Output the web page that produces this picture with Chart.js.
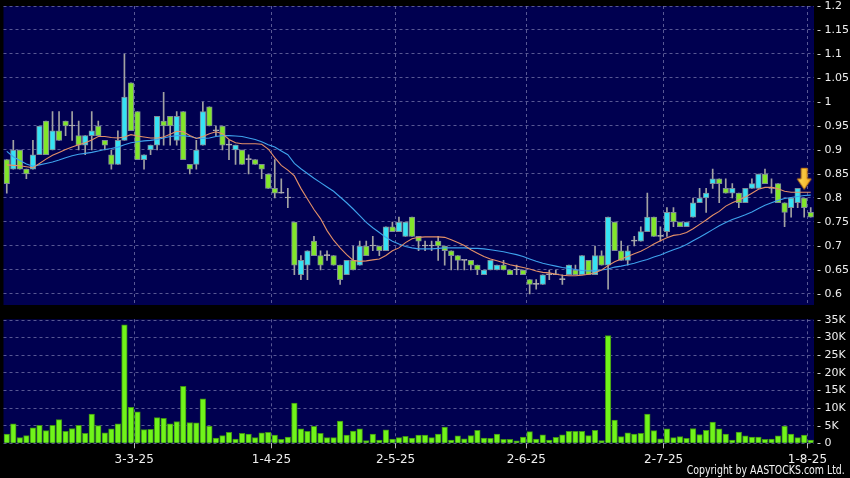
<!DOCTYPE html>
<html>
<head>
<meta charset="utf-8">
<title>Daily chart</title>
<script src="https://cdn.jsdelivr.net/npm/chart.js@4.4.1/dist/chart.umd.min.js"></script>
<style>
  html, body { margin: 0; padding: 0; background: #000; }
  #wrap { position: relative; width: 850px; height: 478px; overflow: hidden; background: #000; }
  canvas { position: absolute; left: 0; }
  #price-chart { top: 0; }
  #volume-chart { top: 310px; }
  #copyright {
    position: absolute; right: 5px; top: 463px;
    color: #f4f4f4; font: 12px "DejaVu Sans"; font-stretch: condensed; white-space: nowrap;
    transform: scaleX(0.87); transform-origin: right center;
  }
</style>
</head>
<body>
<div id="wrap">
  <canvas id="price-chart" width="850" height="310"></canvas>
  <canvas id="volume-chart" width="850" height="168"></canvas>
  <div id="copyright">Copyright by AASTOCKS.com Ltd.</div>
</div>
<script>
    // ===== DATA ===== //
    // trading days, 3 Feb 2025 - 1 Aug 2025
    const dates = [
      '3-2-25','4-2-25','5-2-25','6-2-25','7-2-25','10-2-25','11-2-25','12-2-25','13-2-25','14-2-25',
      '17-2-25','18-2-25','19-2-25','20-2-25','21-2-25','24-2-25','25-2-25','26-2-25','27-2-25','28-2-25',
      '3-3-25','4-3-25','5-3-25','6-3-25','7-3-25','10-3-25','11-3-25','12-3-25','13-3-25','14-3-25',
      '17-3-25','18-3-25','19-3-25','20-3-25','21-3-25','24-3-25','25-3-25','26-3-25','27-3-25','28-3-25','31-3-25',
      '1-4-25','2-4-25','3-4-25','7-4-25','8-4-25','9-4-25','10-4-25','11-4-25','14-4-25','15-4-25',
      '16-4-25','17-4-25','22-4-25','23-4-25','24-4-25','25-4-25','28-4-25','29-4-25','30-4-25',
      '2-5-25','6-5-25','7-5-25','8-5-25','9-5-25','12-5-25','13-5-25','14-5-25','15-5-25','16-5-25',
      '19-5-25','20-5-25','21-5-25','22-5-25','23-5-25','26-5-25','27-5-25','28-5-25','29-5-25','30-5-25',
      '2-6-25','3-6-25','4-6-25','5-6-25','6-6-25','9-6-25','10-6-25','11-6-25','12-6-25','13-6-25',
      '16-6-25','17-6-25','18-6-25','19-6-25','20-6-25','23-6-25','24-6-25','25-6-25','26-6-25','27-6-25','30-6-25',
      '2-7-25','3-7-25','4-7-25','7-7-25','8-7-25','9-7-25','10-7-25','11-7-25','14-7-25','15-7-25',
      '16-7-25','17-7-25','18-7-25','21-7-25','22-7-25','23-7-25','24-7-25','25-7-25','28-7-25','29-7-25',
      '30-7-25','31-7-25','1-8-25'
    ];
    const tickDates = ['3-3-25', '1-4-25', '2-5-25', '2-6-25', '2-7-25', '1-8-25'];

    const opens = [
      .88,.86,.90,.86,.86,.89,.96,.90,.94,.96, .95,.93,.91,.93,.95,.92,.89,.87,.92,1.04,
      .98,.88,.90,.91,.96,.97,.92,.98,.87,.87, .91,.99,.94,.95,.91,.90,.90,.88,.88,.87,
      .85,.82,.81,.80,.75,.64,.66,.71,.68,.68, .68,.66,.64,.67,.66,.70,.70,.70,.69,.74,
      .73,.72,.76,.72,.70,.70,.71,.70,.69,.68, .67,.67,.66,.64,.65,.65,.66,.65,.65,.65,
      .63,.62,.62,.64,.64,.63,.64,.65,.64,.67, .64,.68,.66,.75,.69,.67,.71,.71,.73,.76,
      .72,.73,.77,.75,.74,.76,.79,.80,.83,.84, .82,.81,.81,.79,.82,.82,.85,.82,.83,.79,
      .78,.79,.80,.77
    ];
    const highs = [
      .88,.92,.90,.86,.92,.95,.96,.98,.98,.96, .98,.96,.93,.98,.96,.92,.90,.94,1.10,1.04,
      .98,.89,.91,.97,1.02,.97,.98,.98,.87,.92, 1.00,.99,.95,.95,.92,.91,.90,.89,.88,.87,
      .85,.88,.84,.82,.75,.68,.69,.72,.69,.69, .68,.66,.67,.70,.71,.71,.72,.70,.74,.75,
      .76,.75,.76,.72,.71,.71,.72,.70,.69,.68, .67,.67,.66,.65,.67,.66,.67,.65,.66,.65,
      .63,.63,.64,.65,.65,.64,.66,.66,.68,.67, .70,.69,.76,.75,.71,.70,.72,.74,.81,.76,
      .74,.78,.78,.75,.75,.80,.82,.82,.86,.84, .84,.83,.81,.82,.84,.85,.86,.84,.83,.79,
      .80,.82,.80,.78
    ];
    const lows = [
      .81,.86,.86,.84,.86,.89,.89,.90,.92,.93, .92,.90,.89,.90,.93,.90,.86,.87,.92,.94,
      .88,.86,.89,.90,.91,.91,.91,.88,.85,.86, .91,.95,.93,.90,.88,.87,.87,.85,.87,.84,
      .82,.80,.81,.78,.64,.63,.63,.68,.65,.67, .66,.62,.64,.65,.66,.68,.69,.68,.69,.73,
      .73,.72,.72,.69,.69,.69,.67,.66,.65,.65, .65,.65,.64,.64,.65,.65,.65,.64,.64,.64,
      .60,.61,.62,.63,.64,.62,.64,.64,.64,.64, .64,.66,.61,.69,.67,.66,.70,.71,.73,.72,
      .71,.72,.74,.74,.74,.76,.79,.77,.82,.79, .81,.80,.78,.79,.82,.82,.83,.81,.79,.74,
      .76,.78,.76,.76
    ];
    const closes = [
      .83,.90,.86,.85,.89,.95,.89,.94,.92,.95, .95,.91,.93,.94,.93,.91,.87,.92,1.01,.94,
      .88,.89,.91,.97,.95,.95,.97,.88,.86,.90, .98,.95,.94,.91,.91,.91,.87,.88,.87,.86,
      .82,.81,.81,.80,.66,.67,.69,.68,.66,.68, .66,.63,.67,.65,.70,.68,.70,.69,.74,.73,
      .75,.75,.72,.71,.70,.70,.70,.69,.68,.67, .67,.66,.65,.65,.67,.66,.65,.64,.65,.64,
      .62,.62,.64,.64,.64,.63,.66,.64,.68,.64, .68,.66,.76,.69,.67,.69,.71,.73,.76,.72,
      .72,.77,.75,.74,.75,.79,.80,.81,.84,.83, .81,.82,.79,.82,.83,.85,.83,.82,.79,.77,
      .80,.82,.78,.76
    ];
    // moving averages as drawn on the original chart
    const ma10 = [
      .869,.868,.867,.865,.863,.872,.881,.889,.895,.901, .906,.911,.915,.921,.928,.928,.926,.925,.927,.932,
      .929,.927,.925,.925,.927,.933,.939,.938,.930,.924, .928,.934,.938,.934,.922,.915,.913,.913,.913,.912,
      .902,.884,.868,.858,.846,.820,.798,.776,.757,.732, .712,.696,.682,.670,.668,.669,.671,.673,.680,.690,
      .696,.707,.715,.718,.719,.719,.719,.718,.713,.707, .701,.692,.685,.678,.673,.669,.665,.661,.658,.655,
      .652,.648,.645,.644,.641,.639,.638,.638,.639,.641, .644,.650,.659,.667,.673,.678,.684,.689,.696,.704,
      .711,.717,.722,.724,.728,.736,.745,.754,.764,.772, .783,.790,.796,.802,.810,.818,.822,.822,.819,.814,
      .812,.812,.812,.812
    ];
    const ma20 = [
      .897,.886,.878,.871,.866,.869,.872,.875,.879,.884, .888,.891,.893,.895,.898,.901,.903,.906,.911,.915,
      .917,.919,.920,.922,.925,.928,.930,.930,.928,.925, .924,.925,.928,.930,.930,.929,.928,.925,.922,.917,
      .911,.906,.898,.890,.872,.861,.851,.841,.832,.823, .814,.802,.790,.777,.763,.749,.738,.728,.718,.710,
      .704,.699,.696,.694,.694,.694,.695,.696,.696,.696, .696,.695,.695,.694,.692,.690,.688,.685,.682,.678,
      .673,.668,.664,.661,.658,.655,.653,.651,.649,.648, .648,.650,.652,.656,.658,.661,.664,.668,.672,.677,
      .681,.687,.692,.697,.703,.711,.718,.726,.734,.742, .749,.755,.760,.765,.771,.778,.785,.790,.795,.799,
      .801,.803,.805,.806
    ];
    const volumes = [
      2600,5500,1600,2200,4400,5100,3600,5100,6700,3400, 4200,5100,2800,8300,5000,3000,4100,5500,33600,10200,
      8900,3900,4000,7300,7100,5500,6200,16200,5900,5800, 12600,4900,1500,2200,3100,1200,2800,2600,1600,3000,
      3100,2300,1100,1800,11400,4100,3400,4800,2800,1600, 1600,6300,2300,3500,4100,800,2600,900,3800,1200,
      1600,2000,1500,2300,2300,1600,2600,4600,900,2100, 1300,2200,3700,1500,1400,2600,1100,1100,700,1800,
      3300,1200,2400,900,1700,2400,3400,3400,3400,2200, 3700,800,30600,6600,1900,3000,2600,2800,8300,3600,
      1300,4100,1600,1900,1400,4200,2500,3700,6000,4100, 2600,900,3200,2100,1800,1800,1100,1200,2100,4900,
      2600,1600,2300,900
    ];
    const priceTicks = [0.6, 0.65, 0.7, 0.75, 0.8, 0.85, 0.9, 0.95, 1, 1.05, 1.1, 1.15, 1.2];
    const volumeTicks = [0, 5000, 10000, 15000, 20000, 25000, 30000, 35000];
    const signalDate = '31-7-25';
    const signalPrice = 0.84;

    // ===== STYLE ===== //
    const PLOT_BG = '#000050';
    const GRID = 'rgba(135,135,185,0.65)';
    const TEXT = '#eeeeee';
    const UP = '#36e3f4';
    const DOWN = '#82e62a';
    const FLAT = '#b4b4b4';
    const BODY_EDGE = '#7f8c98';
    const WICK = '#a2a2a2';
    const MA10_COLOR = '#e49068';
    const MA20_COLOR = '#3ea2ec';
    const VOL_FILL = '#70f41a';
    const VOL_EDGE = '#3f9214';
    const PRICE_MIN = 0.577;
    const PRICE_MAX = 1.2;
    const VOLUME_MAX = 35200;

    Chart.defaults.font.family = '"DejaVu Sans", sans-serif';
    Chart.defaults.color = TEXT;

    // ===== HELPERS ===== //
    const plotBackground = {
      id: 'plotBackground',
      beforeDraw(chart) {
        const { ctx, chartArea: a } = chart;
        ctx.save();
        ctx.fillStyle = PLOT_BG;
        ctx.fillRect(a.left, a.top, a.width, a.height);
        ctx.restore();
      }
    };

    function isTickDate(index) {
      return tickDates.includes(dates[index]);
    }

    // labels may stick out of the plot; keep the plot box where we put it
    function noLabelPadding(s) {
      s.paddingTop = 0;
      s.paddingBottom = 0;
      s.paddingLeft = 0;
      s.paddingRight = 0;
    }

    function makeArrow() {
      const c = document.createElement('canvas');
      c.width = 16;
      c.height = 24;
      const g = c.getContext('2d');
      const grad = g.createLinearGradient(0, 0, 16, 0);
      grad.addColorStop(0, '#ffe060');
      grad.addColorStop(1, '#f5a818');
      g.fillStyle = grad;
      g.strokeStyle = '#c87a10';
      g.lineWidth = 1;
      g.beginPath();
      g.moveTo(5, 1.5); g.lineTo(11, 1.5); g.lineTo(11, 12);
      g.lineTo(15, 12); g.lineTo(8, 22.5); g.lineTo(1, 12);
      g.lineTo(5, 12); g.closePath();
      g.fill();
      g.stroke();
      return c;
    }

    function xAxis(showLabels) {
      return {
        offset: true,
        grid: {
          offset: true,
          color: c => isTickDate(c.index) ? GRID : 'transparent',
          drawTicks: showLabels,
          tickLength: 5,
          tickColor: c => isTickDate(c.index) ? '#b8b8b8' : 'transparent',
          tickBorderDash: []
        },
        border: { display: false, dash: [3, 3] },
        ticks: {
          display: showLabels,
          autoSkip: false,
          maxRotation: 0,
          minRotation: 0,
          labelOffset: -3.3,
          padding: 4,
          color: TEXT,
          font: { size: 12 },
          callback: (v, i) => isTickDate(i) ? dates[i] : ''
        },
        afterFit: s => {
          s.height = showLabels ? 24 : 0;
          noLabelPadding(s);
        }
      };
    }

    function yAxis(min, max, tickValues, format) {
      return {
        position: 'right',
        min, max,
        afterBuildTicks: s => { s.ticks = tickValues.map(v => ({ value: v })); },
        grid: { color: GRID, drawTicks: false },
        border: { display: false, dash: [3, 3] },
        ticks: { color: TEXT, padding: 3, font: { size: 11 }, callback: format },
        afterFit: s => {
          s.width = 36;
          noLabelPadding(s);
        }
      };
    }

    const baseOptions = {
      responsive: false,
      animation: false,
      events: [],
      plugins: { legend: { display: false }, tooltip: { enabled: false } }
    };

    // ===== PRICE PANEL ===== //
    const bodyColor = (o, c) => c > o ? UP : (c < o ? DOWN : FLAT);

    new Chart(document.getElementById('price-chart'), {
      type: 'bar',
      data: {
        labels: dates,
        datasets: [
          {
            type: 'line', data: dates.map(d => d === signalDate ? signalPrice : null),
            showLine: false, pointStyle: makeArrow(), pointRadius: 10, order: 0
          },
          {
            type: 'line', data: ma10, borderColor: MA10_COLOR, borderWidth: 1.1,
            pointRadius: 0, tension: 0, order: 1
          },
          {
            type: 'line', data: ma20, borderColor: MA20_COLOR, borderWidth: 1.1,
            pointRadius: 0, tension: 0, order: 1
          },
          {
            data: opens.map((o, i) => [Math.min(o, closes[i]), Math.max(o, closes[i])]),
            backgroundColor: opens.map((o, i) => bodyColor(o, closes[i])),
            borderColor: opens.map((o, i) => o === closes[i] ? FLAT : BODY_EDGE),
            borderWidth: 1, borderSkipped: false, minBarLength: 1,
            barThickness: 5.6, grouped: false, order: 2
          },
          {
            data: lows.map((l, i) => [l, highs[i]]),
            backgroundColor: WICK, borderWidth: 0,
            barThickness: 1, grouped: false, order: 3
          }
        ]
      },
      options: {
        ...baseOptions,
        layout: { autoPadding: false, padding: { left: 3.5, top: 6, right: 0, bottom: 5 } },
        scales: {
          x: xAxis(false),
          y: yAxis(PRICE_MIN, PRICE_MAX, priceTicks, v => '- ' + (+v.toFixed(2)))
        }
      },
      plugins: [plotBackground]
    });

    // ===== VOLUME PANEL ===== //
    new Chart(document.getElementById('volume-chart'), {
      type: 'bar',
      data: {
        labels: dates,
        datasets: [{
          data: volumes,
          backgroundColor: VOL_FILL,
          borderColor: VOL_EDGE,
          borderWidth: 1,
          borderSkipped: 'start',
          barThickness: 5.6
        }]
      },
      options: {
        ...baseOptions,
        layout: { autoPadding: false, padding: { left: 3.5, top: 9.3, right: 0, bottom: 10.7 } },
        scales: {
          x: xAxis(true),
          y: yAxis(0, VOLUME_MAX, volumeTicks, v => v === 0 ? '- 0' : '- ' + v / 1000 + 'K')
        }
      },
      plugins: [plotBackground]
    });
</script>
</body>
</html>
